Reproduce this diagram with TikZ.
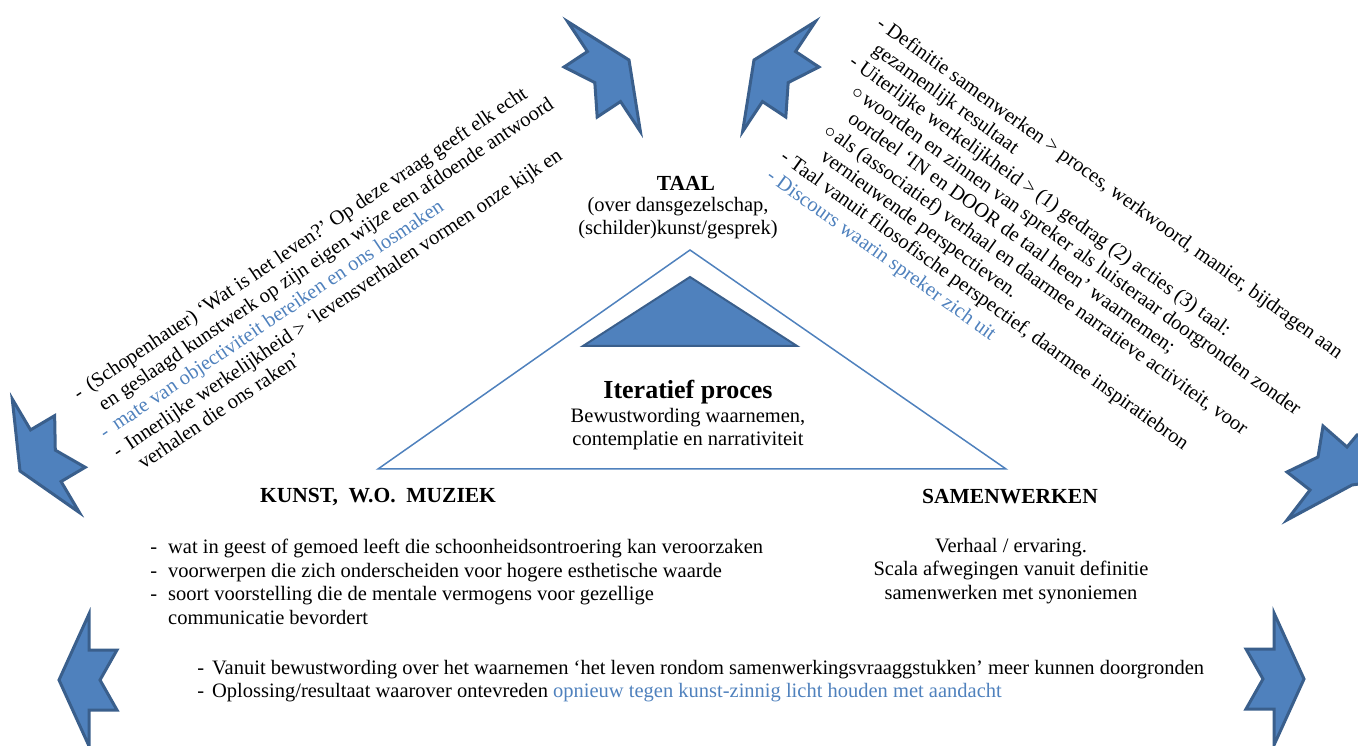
\documentclass[tikz,border=0pt]{standalone}
\usepackage{fontspec}
\setmainfont{Liberation Serif}
\usetikzlibrary{positioning}
\definecolor{pijlvul}{HTML}{4F81BD}
\definecolor{pijlrand}{HTML}{3A5F8C}
\definecolor{blauw}{HTML}{4F81BD}
\newcommand{\streep}[1]{\llap{-\hspace{#1pt}}}
\newcommand{\rondje}{\makebox[12.5pt][l]{$\circ$}}
\frenchspacing

\begin{document}
\begin{tikzpicture}[x=1pt,y=1pt,
  pijl/.style={fill=pijlvul,draw=pijlrand,line width=3pt},
  tekst/.style={inner sep=0pt,font=\fontsize{20.5}{23.5}\selectfont},
  kop/.style={inner sep=0pt,font=\fontsize{21.5}{24}\selectfont\bfseries}]
\useasboundingbox (0,0) rectangle (1358,745);

% pijlen rondom
\foreach \x/\y/\hoek in {59/65/180, 1304/66/0, 20/274/210.6, 629/685/33.5, 754/685/146.5}
  \draw[pijl,shift={(\x,\y)},rotate=\hoek] (0,0) -- (-30,66) -- (-30,30) -- (-58,30)
    -- (-41,0) -- (-58,-30) -- (-30,-30) -- (-30,-66) -- cycle;
\draw[pijl] (1287,225) -- (1310,255) -- (1287,273) -- (1318,288) -- (1323,319) -- (1347,298)
  -- (1357,310) -- (1366,310) -- (1366,262) -- (1352,260) -- cycle;

% driehoek
\draw[blauw,line width=1.5pt] (690,495) -- (1006,276) -- (378,276) -- cycle;
\draw[pijl,line width=2pt] (690,468) -- (797,399) -- (583,399) -- cycle;

\node[kop] (taal) at (686,562) {TAAL};
\node[tekst,align=center] (taalsub) at (678,527) {(over dansgezelschap,\\(schilder)kunst/gesprek)};
\node[kop,font=\fontsize{26}{30}\selectfont\bfseries] (proces) at (688,353) {Iteratief proces};
\node[tekst,align=center] (procsub) at (688,316) {Bewustwording waarnemen,\\contemplatie en narrativiteit};

\node[kop] (kunst) at (378,248) {KUNST,\ \ W.O.\ \ MUZIEK};
\node[kop] (samen) at (1010,248) {SAMENWERKEN};

\node[tekst,align=left,anchor=west] (kunstlijst) at (168,163) {\streep{11}wat in geest of gemoed leeft die schoonheidsontroering kan veroorzaken\\
  \streep{11}voorwerpen die zich onderscheiden voor hogere esthetische waarde\\
  \streep{11}soort voorstelling die de mentale vermogens voor gezellige\\
  communicatie bevordert};
\node[tekst,align=center] (samenlijst) at (1011,174) {Verhaal / ervaring.\\Scala afwegingen vanuit definitie\\samenwerken met synoniemen};

\node[tekst,align=left,anchor=west] (onder) at (212,64) {\streep{8}Vanuit bewustwording over het waarnemen ‘het leven rondom samenwerkingsvraaggstukken’ meer kunnen doorgronden\\
  \streep{8}Oplossing/resultaat waarover ontevreden \textcolor{blauw}{opnieuw tegen kunst-zinnig licht houden met aandacht}};

% schuine teksten (base = laatste regel)
\node[tekst,align=left,anchor=base west,rotate=34] (links) at (143.5,275) {\streep{8}(Schopenhauer) ‘Wat is het leven?’ Op deze vraag geeft elk echt\\
  en geslaagd kunstwerk op zijn eigen wijze een afdoende antwoord\\
  \textcolor{blauw}{\streep{8}mate van objectiviteit bereiken en ons losmaken}\\
  \streep{8}Innerlijke werkelijkheid > ‘levensverhalen vormen onze kijk en\\
  verhalen die ons raken’};
\node[tekst,align=left,anchor=base west,rotate=-35.8] (rechts) at (775,559.5) {\streep{5}Definitie samenwerken > proces, werkwoord, manier, bijdragen aan\\
  gezamenlijk resultaat\\
  \streep{5}Uiterlijke werkelijkheid > (1) gedrag (2) acties (3) taal:\\
  \hspace*{8pt}\rondje woorden en zinnen van spreker als luisteraar doorgronden zonder\\
  \hspace*{20.5pt}oordeel ‘IN en DOOR de taal heen’ waarnemen;\\
  \hspace*{8pt}\rondje als (associatief) verhaal en daarmee narratieve activiteit, voor\\
  \hspace*{20.5pt}vernieuwende perspectieven.\\
  \streep{5}Taal vanuit filosofische perspectief, daarmee inspiratiebron\\
  \textcolor{blauw}{\streep{5}Discours waarin spreker zich uit}};
\end{tikzpicture}
\end{document}
